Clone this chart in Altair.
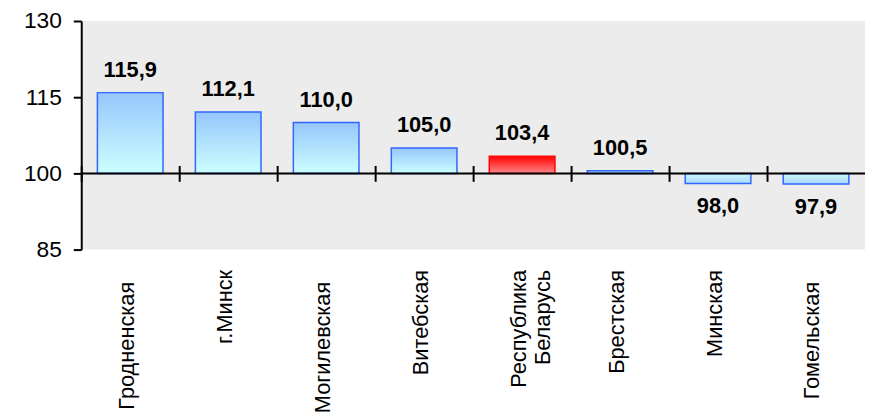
import altair as alt
import pandas as pd

regions = ["Гродненская", "г.Минск", "Могилевская", "Витебская",
           "Республика Беларусь", "Брестская", "Минская", "Гомельская"]
values = [115.9, 112.1, 110.0, 105.0, 103.4, 100.5, 98.0, 97.9]
highlight = [False, False, False, False, True, False, False, False]

BASE = 100
Y_MIN, Y_MAX = 85, 130
W, H = 792, 231
FONT = "Liberation Sans"

df = pd.DataFrame({"region": regions, "value": values, "highlight": highlight})
df["label"] = df["value"].map(lambda v: f"{v:.1f}".replace(".", ","))

line_y = H * (Y_MAX - BASE) / (Y_MAX - Y_MIN)
half_step = W / len(regions) / 2
long_names = [r for r in regions if len(r) >= 10 and " " not in r]
long_test = "indexof([" + ",".join(f"'{r}'" for r in long_names) + "], datum.value) >= 0"

x_enc = alt.X(
    "region:N", sort=regions, title=None,
    scale=alt.Scale(domain=regions, paddingInner=0.33, paddingOuter=0.165),
    axis=alt.Axis(
        orient="bottom", offset=(line_y - 8) - H, domain=False,
        tickOffset=-half_step,
        tickSize=16, tickWidth=2, tickColor="black",
        labelAngle=270, labelAlign="right", labelBaseline="middle",
        labelFont=FONT, labelFontSize=22, labelColor="black",
        labelPadding={"condition": {"test": long_test, "value": 101}, "value": 89},
        labelExpr="split(datum.label, ' ')", labelLineHeight=25,
        labelOffset=half_step - 4,
    ),
)
y_scale = alt.Scale(domain=[Y_MIN, Y_MAX], nice=False, zero=False)
y_axis = alt.Axis(
    title=None, values=[85, 100, 115, 130], grid=False,
    domainColor="black", domainWidth=2, tickColor="black", tickWidth=2, tickSize=8,
    labelFont=FONT, labelFontSize=23, labelColor="black", labelPadding=12,
)
y_enc = alt.Y("value:Q", scale=y_scale, axis=y_axis)


def grad(top, bottom):
    return alt.Gradient(
        gradient="linear", x1=0, x2=0, y1=0, y2=1,
        stops=[alt.GradientStop(color=top, offset=0), alt.GradientStop(color=bottom, offset=1)],
    )


base = alt.Chart(df)

pos_bars = base.transform_filter(
    (alt.datum.value >= BASE) & (~alt.datum.highlight)
).mark_bar(color=grad("#96c6fc", "#ccffff"), stroke="#3366ff", strokeWidth=1.5).encode(
    x=x_enc, y=y_enc, y2=alt.Y2(datum=BASE)
)
neg_bars = base.transform_filter(
    alt.datum.value < BASE
).mark_bar(color=grad("#ccf8ff", "#aad8ff"), stroke="#3366ff", strokeWidth=1.5).encode(
    x=x_enc, y=y_enc, y2=alt.Y2(datum=BASE)
)
red_bar = base.transform_filter(
    alt.datum.highlight
).mark_bar(color=grad("#ff0000", "#ff8888"), stroke="#ff0000", strokeWidth=1.5).encode(
    x=x_enc, y=y_enc, y2=alt.Y2(datum=BASE)
)

zero_line = alt.Chart(pd.DataFrame({"v": [BASE]})).mark_rule(
    color="black", strokeWidth=2
).encode(y=alt.Y("v:Q", scale=y_scale, axis=y_axis))

pos_text = base.transform_filter(alt.datum.value >= BASE).mark_text(
    font=FONT, fontSize=22, fontWeight="bold", color="black",
    baseline="alphabetic", dy=-16
).encode(x=x_enc, y=y_enc, text="label:N")
neg_text = base.transform_filter(alt.datum.value < BASE).mark_text(
    font=FONT, fontSize=22, fontWeight="bold", color="black",
    baseline="alphabetic", dy=30
).encode(x=x_enc, y=y_enc, text="label:N")

chart = alt.layer(pos_bars, neg_bars, red_bar, zero_line, pos_text, neg_text).properties(
    width=W, height=H,
    padding={"left": 15, "top": 0, "right": 0, "bottom": 0},
    background="white",
).configure_view(fill="#ececec", stroke=None)

chart.save("out.html", embed_options={"renderer": "svg", "actions": False})
